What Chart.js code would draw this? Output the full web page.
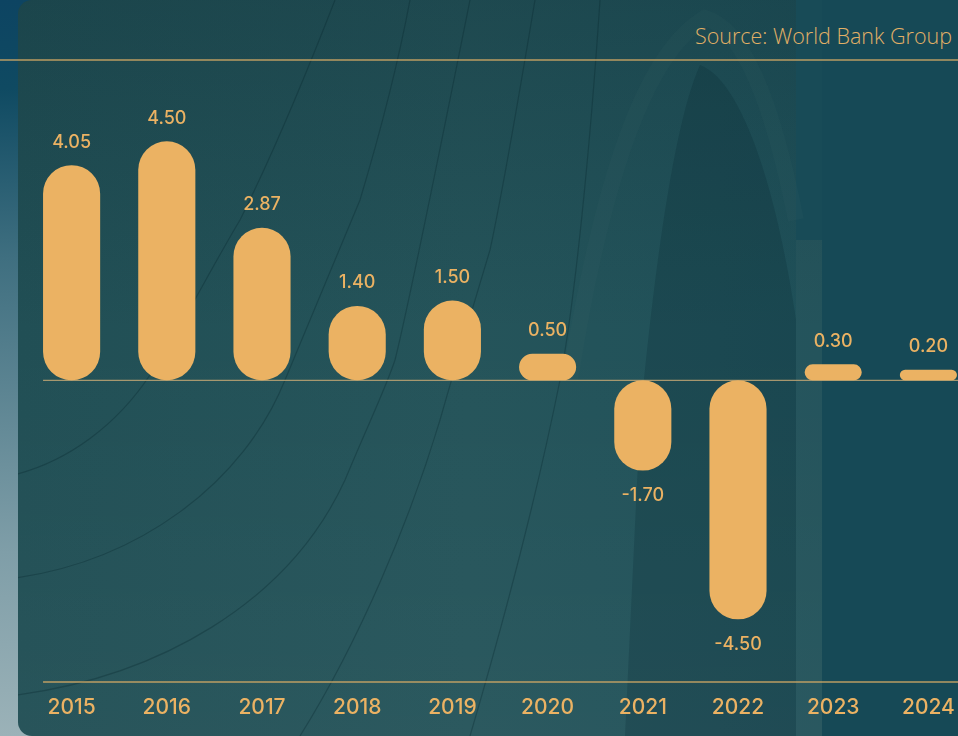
<!DOCTYPE html>
<html>
<head>
<meta charset="utf-8">
<title>GDP growth</title>
<script src="https://cdn.jsdelivr.net/npm/chart.js@4.4.1/dist/chart.umd.min.js"></script>
<style>
  html, body {
    margin: 0;
    width: 958px;
    height: 736px;
    overflow: hidden;
  }
  body {
    position: relative;
    background: linear-gradient(to bottom, #0d4462 0%, #0f4a62 12%, #3f6f80 35%, #7f9ea8 75%, #9bb2b8 100%);
  }
  #panel {
    position: absolute;
    left: 18px;
    top: 0;
    width: 1000px;
    height: 736px;
    border-radius: 14px 0 0 14px;
    overflow: hidden;
    background:
      linear-gradient(to bottom, rgba(10,40,48,0.25) 0%, rgba(0,0,0,0) 45%, rgba(255,255,255,0.03) 100%),
      linear-gradient(to right, #214f55 0%, #25545a 45%, #21525a 70%, #1b4d57 100%);
  }
  #panel svg {
    position: absolute;
    left: -18px;
    top: 0;
  }
  #source {
    position: absolute;
    right: 6px;
    top: 21px;
    font-family: "Open Sans", sans-serif;
    font-weight: 300;
    font-size: 21.5px;
    color: #e2b066;
    white-space: nowrap;
  }
  #chart {
    position: absolute;
    left: 0;
    top: 0;
  }
</style>
</head>
<body>
<div id="panel">
  <!-- backdrop: arch shadow, side stripe and thin structural curves -->
  <svg width="958" height="736" viewBox="0 0 958 736">
    <rect x="822" y="0" width="140" height="736" fill="#164956"/>
    <rect x="796" y="0" width="26" height="240" fill="#184b57"/>
    <rect x="796" y="240" width="26" height="496" fill="rgba(60,100,104,0.2)"/>
    <path d="M 625 736 L 640 420 C 655 260, 675 120, 700 65 C 740 80, 775 180, 796 320 L 796 736 Z" fill="rgba(6,36,44,0.2)"/>
    <path d="M 570 380 C 605 160, 650 50, 705 18 C 740 28, 770 90, 796 220" fill="none" stroke="rgba(80,120,120,0.08)" stroke-width="16"/>
    <g fill="none" stroke="rgba(8,38,44,0.3)" stroke-width="1.2">
      <path d="M 0 697 C 160 680, 290 600, 345 480 C 370 420, 385 390, 395 360 C 410 300, 440 150, 470 0"/>
      <path d="M 0 580 C 140 565, 245 480, 285 380 C 310 320, 335 260, 360 200 C 375 150, 395 80, 410 0"/>
      <path d="M 0 478 C 70 465, 120 420, 150 375 C 180 330, 210 270, 240 220 C 265 170, 300 90, 335 0"/>
      <path d="M 300 736 C 360 640, 410 520, 440 420 C 460 350, 475 300, 490 250 C 505 180, 520 90, 535 0"/>
      <path d="M 470 736 C 510 600, 540 480, 560 380 C 575 300, 590 150, 600 0"/>
    </g>
  </svg>
</div>
<div id="source">Source: World Bank Group</div>
<canvas id="chart" width="1000" height="736"></canvas>
<script>
// Annual GDP growth, %
var years = ['2015', '2016', '2017', '2018', '2019', '2020', '2021', '2022', '2023', '2024'];
var growth = [4.05, 4.50, 2.87, 1.40, 1.50, 0.50, -1.70, -4.50, 0.30, 0.20];
var yMin = -5.68;
var yMax = 6.03;

var gold = '#ebb263';
var lineGold = 'rgba(214, 170, 100, 0.85)';

// guide lines: top rule, zero line and bottom rule
var guideLines = {
  id: 'guideLines',
  beforeDatasetsDraw: function (chart) {
    var ctx = chart.ctx;
    var area = chart.chartArea;
    var first = chart.getDatasetMeta(0).data[0];
    var startX = first.x - first.width / 2;
    var zeroY = chart.scales.y.getPixelForValue(0);
    ctx.save();
    ctx.lineWidth = 1.5;
    ctx.strokeStyle = lineGold;
    ctx.beginPath();
    ctx.moveTo(0, area.top);
    ctx.lineTo(chart.width, area.top);
    ctx.moveTo(startX, area.bottom);
    ctx.lineTo(chart.width, area.bottom);
    ctx.stroke();
    ctx.lineWidth = 1.2;
    ctx.strokeStyle = 'rgba(190, 165, 115, 0.85)';
    ctx.beginPath();
    ctx.moveTo(startX, zeroY);
    ctx.lineTo(chart.width, zeroY);
    ctx.stroke();
    ctx.restore();
  }
};

// value labels above / below each bar
var valueLabels = {
  id: 'valueLabels',
  afterDatasetsDraw: function (chart) {
    var ctx = chart.ctx;
    var meta = chart.getDatasetMeta(0);
    ctx.save();
    ctx.fillStyle = gold;
    ctx.font = '500 18px Inter, sans-serif';
    ctx.textAlign = 'center';
    ctx.textBaseline = 'middle';
    meta.data.forEach(function (bar, i) {
      var v = growth[i];
      var y = v >= 0 ? bar.y - 23 : bar.y + 25;
      ctx.fillText(v.toFixed(2), bar.x, y);
    });
    ctx.restore();
  }
};

var ctx = document.getElementById('chart').getContext('2d');
var chart = new Chart(ctx, {
  type: 'bar',
  data: {
    labels: years,
    datasets: [{
      data: growth,
      backgroundColor: gold,
      borderWidth: 0,
      borderSkipped: false,
      borderRadius: 40,
      barPercentage: 0.6,
      categoryPercentage: 1.0
    }]
  },
  options: {
    responsive: false,
    animation: false,
    layout: {
      padding: { left: 24, right: 24, top: 60, bottom: 0 }
    },
    plugins: {
      legend: { display: false },
      tooltip: { enabled: false }
    },
    scales: {
      x: {
        grid: { display: false, drawTicks: false },
        border: { display: false },
        ticks: {
          color: gold,
          padding: 13,
          font: { family: 'Inter, sans-serif', size: 21, weight: '500' }
        },
        afterFit: function (scale) {
          scale.height = 54;
        }
      },
      y: {
        display: false,
        min: yMin,
        max: yMax
      }
    }
  },
  plugins: [guideLines, valueLabels]
});
</script>
</body>
</html>
